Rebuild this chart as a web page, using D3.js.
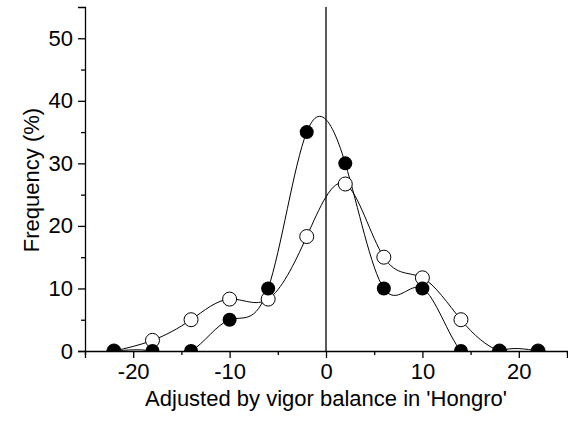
<!DOCTYPE html>
<html>
<head>
<meta charset="utf-8">
<script src="https://cdn.jsdelivr.net/npm/d3@7"></script>
<style>
body { margin: 0; background: #fff; }
text { font-family: "Liberation Sans", Arial, sans-serif; fill: #000; }
</style>
</head>
<body>
<div id="chart"></div>
<script>
var width = 568;
var height = 424;

// data
var xValues = [-22, -18, -14, -10, -6, -2, 2, 6, 10, 14, 18, 22];
var filledValues = [0, 0, 0, 5, 10, 35, 30, 10, 10, 0, 0, 0];
var openValues = [0, 1.7, 5, 8.3, 8.3, 18.3, 26.7, 15, 11.7, 5, 0, 0];
var xTicks = [-20, -10, 0, 10, 20];
var xMinor = [-25, -15, -5, 5, 15, 25];
var yTicks = [0, 10, 20, 30, 40, 50];
var yMinor = [5, 15, 25, 35, 45];

var svg = d3.select("#chart")
    .append("svg")
    .attr("width", width)
    .attr("height", height);

var x = d3.scaleLinear().domain([-25, 25]).range([85, 567]);
var y = d3.scaleLinear().domain([0, 55]).range([351, 7]);

svg.append("clipPath")
    .attr("id", "plot")
    .append("rect")
    .attr("x", 85).attr("y", 0)
    .attr("width", 484).attr("height", 351);

// zero line
svg.append("line")
    .attr("x1", x(0)).attr("x2", x(0))
    .attr("y1", y(55)).attr("y2", y(0))
    .attr("stroke", "#000").attr("stroke-width", 1.3);

var line = d3.line()
    .x(function(d) { return x(d[0]); })
    .y(function(d) { return y(d[1]); })
    .curve(d3.curveNatural);

var openData = d3.zip(xValues, openValues);
var filledData = d3.zip(xValues, filledValues);

var plot = svg.append("g").attr("clip-path", "url(#plot)");

plot.append("path")
    .datum(openData)
    .attr("d", line)
    .attr("fill", "none")
    .attr("stroke", "#000")
    .attr("stroke-width", 1);

plot.append("path")
    .datum(filledData)
    .attr("d", line)
    .attr("fill", "none")
    .attr("stroke", "#000")
    .attr("stroke-width", 1);

plot.selectAll(".open")
    .data(openData)
    .enter().append("circle")
    .attr("class", "open")
    .attr("cx", function(d) { return x(d[0]); })
    .attr("cy", function(d) { return y(d[1]); })
    .attr("r", 7)
    .attr("fill", "#fff")
    .attr("stroke", "#000")
    .attr("stroke-width", 1);

plot.selectAll(".filled")
    .data(filledData)
    .enter().append("circle")
    .attr("class", "filled")
    .attr("cx", function(d) { return x(d[0]); })
    .attr("cy", function(d) { return y(d[1]); })
    .attr("r", 7)
    .attr("fill", "#000");

// axes
var xAxis = svg.append("g")
    .attr("transform", "translate(0," + y(0) + ")")
    .call(d3.axisBottom(x).tickValues(xTicks).tickSize(7).tickPadding(5).tickFormat(function(d) { return String(d); }));
xAxis.append("g")
    .call(d3.axisBottom(x).tickValues(xMinor).tickSize(4).tickFormat(""));

var yAxis = svg.append("g")
    .attr("transform", "translate(" + x(-25) + ",0)")
    .call(d3.axisLeft(y).tickValues(yTicks).tickSize(7).tickPadding(5));
yAxis.append("g")
    .call(d3.axisLeft(y).tickValues(yMinor).tickSize(4).tickFormat(""));

svg.selectAll(".domain").attr("stroke-width", 1.3);
svg.selectAll(".tick line").attr("stroke-width", 1.3);
xAxis.selectAll("g > g .domain").remove();
yAxis.selectAll("g > g .domain").remove();

svg.selectAll(".tick text")
    .style("font-family", "'Liberation Sans', Arial, sans-serif")
    .style("font-size", "22px")
    .attr("fill", "#000");

// titles
svg.append("text")
    .attr("x", 326)
    .attr("y", 406)
    .attr("text-anchor", "middle")
    .style("font-size", "22px")
    .text("Adjusted by vigor balance in 'Hongro'");

svg.append("text")
    .attr("transform", "translate(39,180) rotate(-90)")
    .attr("text-anchor", "middle")
    .style("font-size", "22px")
    .text("Frequency (%)");
</script>
</body>
</html>
